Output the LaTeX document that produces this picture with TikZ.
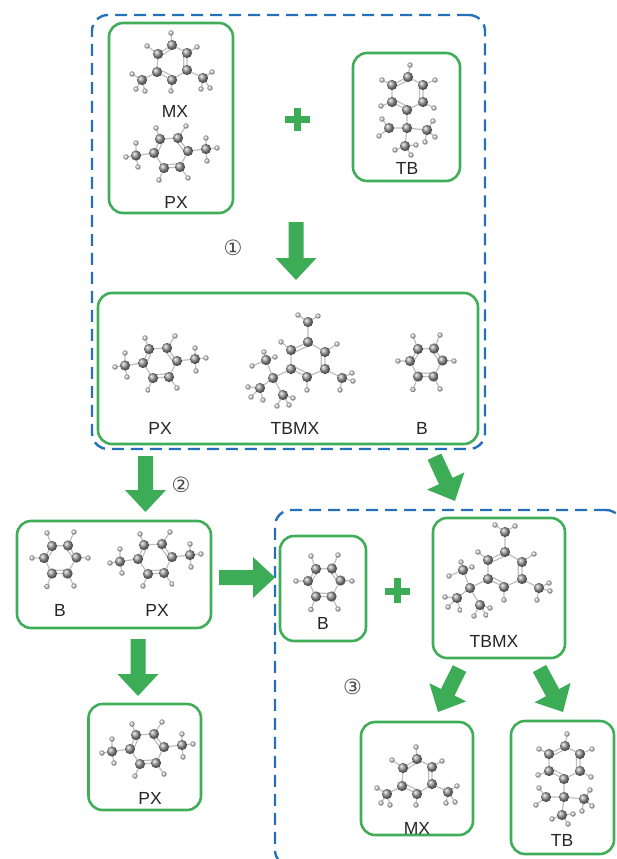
\documentclass[tikz,border=0pt]{standalone}
\usepackage{fontspec}
\setmainfont{Liberation Sans}
\newfontfamily\symfont{DejaVu Sans}
\usetikzlibrary{calc}
\definecolor{gline}{RGB}{64,174,88}
\definecolor{bline}{RGB}{36,112,186}
\definecolor{afill}{RGB}{60,172,86}
\tikzset{
 gbox/.style={draw=gline, line width=2.6pt, rounded corners=14pt, inner sep=0pt},
 dbox/.style={draw=bline, line width=2.4pt, dash pattern=on 12pt off 7pt, rounded corners=16pt, inner sep=0pt},
 lbl/.style={font=\fontsize{17.5}{20}\selectfont, text=black!85, inner sep=0pt},
 num/.style={font=\symfont\fontsize{21}{24}\selectfont, text=black!70, inner sep=0pt},
 bond/.style={draw=gray!50, line width=1.2pt},
 cball/.style={ball color=gray!80},
 hball/.style={ball color=gray!35},
 plussign/.style={draw=afill, line width=7pt},
}
\newcommand{\mC}[1]{\shade[cball] (#1) circle (5.1pt);}
\newcommand{\mH}[1]{\shade[hball] (#1) circle (2.7pt);}
\newcommand{\setring}[6]{\coordinate (c0) at (0,0); \coordinate (c1) at (#1); \coordinate (c2) at (#2); \coordinate (c3) at (#3); \coordinate (c4) at (#4); \coordinate (c5) at (#5); \coordinate (c6) at (#6);}
\newcommand{\ringbonds}{%
 \draw[bond] (c1)--(c2)--(c3)--(c4)--(c5)--(c6)--cycle;
 \draw[bond] ($(c2)!.22!(c0)$)--($(c3)!.22!(c0)$) ($(c4)!.22!(c0)$)--($(c5)!.22!(c0)$) ($(c6)!.22!(c0)$)--($(c1)!.22!(c0)$);}
\newcommand{\molB}[1]{\begin{scope}[shift={(#1)}]
 \setring{-8,-13}{8,-13.5}{16.5,-1.5}{7.5,14.5}{-8,14.5}{-16,-1}
 \ringbonds
 \draw[bond] (c1)--(-13,-26) (c2)--(14,-27) (c3)--(28,-1) (c4)--(14,27) (c5)--(-13,27.5) (c6)--(-28,-1);
 \mH{-13,-26}\mH{14,-27}\mH{28,-1}\mH{14,27}\mH{-13,27.5}\mH{-28,-1}
 \foreach \i in {1,...,6}{\mC{c\i}}
\end{scope}}
\newcommand{\molPX}[1]{\begin{scope}[shift={(#1)}]
 \setring{-11,-14}{7,-15}{17,-2}{9,14}{-7,15}{-17,0}
 \ringbonds
 \coordinate (m1) at (-35,2.5); \coordinate (m2) at (35,-4);
 \draw[bond] (c1)--(-15,-25) (c2)--(15,-27) (c4)--(17,25) (c5)--(-12,27) (c6)--(m1) (c3)--(m2)
   (m1)--(-35,-10) (m1)--(-45,4) (m1)--(-33,14) (m2)--(35,-15) (m2)--(46,-5) (m2)--(36,8);
 \mH{-15,-25}\mH{15,-27}\mH{17,25}\mH{-12,27}\mH{-35,-10}\mH{-45,4}\mH{-33,14}\mH{35,-15}\mH{46,-5}\mH{36,8}
 \foreach \i in {1,...,6}{\mC{c\i}}
 \mC{m1}\mC{m2}
\end{scope}}
\newcommand{\molMX}[1]{\begin{scope}[shift={(#1)}]
 \setring{0,-17}{15,-9}{15,8}{0,18}{-15,10}{-14,-8}
 \ringbonds
 \coordinate (m1) at (31,16); \coordinate (m2) at (-30,18);
 \draw[bond] (c1)--(-1,-29) (c2)--(25,-15) (c4)--(-1,29) (c6)--(-25,-16) (c3)--(m1) (c5)--(m2)
   (m1)--(40,10) (m1)--(38,26) (m1)--(29,27) (m2)--(-40,12) (m2)--(-36,27) (m2)--(-27,29);
 \mH{-1,-29}\mH{25,-15}\mH{-1,29}\mH{-25,-16}\mH{40,10}\mH{38,26}\mH{29,27}\mH{-40,12}\mH{-36,27}\mH{-27,29}
 \foreach \i in {1,...,6}{\mC{c\i}}
 \mC{m1}\mC{m2}
\end{scope}}
\newcommand{\molTB}[1]{\begin{scope}[shift={(#1)}]
 \setring{1,-16}{16,-8}{16,9}{0,17}{-15,9}{-15,-8}
 \ringbonds
 \coordinate (q) at (0,35); \coordinate (ma) at (-18,35); \coordinate (mb) at (20,37); \coordinate (mc) at (-2,53);
 \draw[bond] (c1)--(3,-28) (c2)--(28,-13) (c3)--(27,15) (c5)--(-26,13) (c6)--(-25,-13) (c4)--(q)
   (q)--(ma) (q)--(mb) (q)--(mc)
   (ma)--(-25,26) (ma)--(-28,43) (mb)--(26,28) (mb)--(28,44) (mb)--(18,49) (mc)--(-12,57) (mc)--(4,62) (mc)--(9,52);
 \mH{3,-28}\mH{28,-13}\mH{27,15}\mH{-26,13}\mH{-25,-13}
 \mH{-25,26}\mH{-28,43}\mH{26,28}\mH{28,44}\mH{18,49}\mH{-12,57}\mH{4,62}\mH{9,52}
 \foreach \i in {1,...,6}{\mC{c\i}}
 \mC{ma}\mC{mb}\mC{q}\mC{mc}
\end{scope}}
\newcommand{\molTBMX}[1]{\begin{scope}[shift={(#1)}]
 \setring{0,-18}{17,-8}{17,9}{-1,17}{-17,9}{-17,-10}
 \ringbonds
 \coordinate (m1) at (0,-38); \coordinate (m2) at (34,18); \coordinate (q) at (-35,18);
 \coordinate (t1) at (-42,0); \coordinate (t2) at (-48,28); \coordinate (t3) at (-25,35);
 \draw[bond] (c2)--(29,-16) (c4)--(-1,30) (c6)--(-27,-18) (c1)--(m1) (c3)--(m2) (c5)--(q)
   (q)--(t1) (q)--(t2) (q)--(t3)
   (m1)--(-10,-45) (m1)--(10,-44) (m2)--(44,13) (m2)--(32,30) (m2)--(45,21)
   (t1)--(-56,6) (t1)--(-44,-8) (t1)--(-33,-3) (t2)--(-60,27) (t2)--(-45,40) (t2)--(-57,37)
   (t3)--(-31,46) (t3)--(-15,38) (t3)--(-19,45);
 \mH{29,-16}\mH{-1,30}\mH{-27,-18}\mH{-10,-45}\mH{10,-44}\mH{44,13}\mH{32,30}\mH{45,21}
 \mH{-56,6}\mH{-44,-8}\mH{-33,-3}\mH{-60,27}\mH{-45,40}\mH{-57,37}\mH{-31,46}\mH{-15,38}\mH{-19,45}
 \foreach \i in {1,...,6}{\mC{c\i}}
 \mC{m1}\mC{m2}\mC{t1}\mC{t2}\mC{q}\mC{t3}
\end{scope}}
\newcommand{\fatarrow}[2]{%
 \coordinate (fab) at ($(#2)!22pt!(#1)$);
 \fill[afill] ($(#1)!7.5pt!90:(#2)$) -- ($(fab)!7.5pt!90:(#2)$) -- ($(fab)!20.5pt!90:(#2)$) -- (#2)
   -- ($(fab)!20.5pt!-90:(#2)$) -- ($(fab)!7.5pt!-90:(#2)$) -- ($(#1)!7.5pt!-90:(#2)$) -- cycle;}
\begin{document}
\begin{tikzpicture}[x=1pt,y=-1pt]
\useasboundingbox (0,0) rectangle (616,859);
\clip (0,0) rectangle (616,859);
\fill[white] (0,0) rectangle (616,859);
% dashed group boxes
\node[dbox, minimum width=393pt, minimum height=434pt] (grp1) at (288.5,232) {};
\node[dbox, minimum width=347pt, minimum height=356pt] (grp2) at (448.5,688) {};
% green boxes
\node[gbox, minimum width=124pt, minimum height=190pt] (bxMXPX) at (171,118) {};
\node[gbox, minimum width=107pt, minimum height=128pt] (bxTB) at (406.5,117) {};
\node[gbox, minimum width=380pt, minimum height=151pt] (bxMix) at (288,368.5) {};
\node[gbox, minimum width=194pt, minimum height=107pt] (bxBPX) at (114,574.5) {};
\node[gbox, minimum width=112.5pt, minimum height=106pt] (bxPX) at (144.75,757) {};
\node[gbox, minimum width=86pt, minimum height=105pt] (bxB) at (323,588.5) {};
\node[gbox, minimum width=132pt, minimum height=140pt] (bxTBMX) at (499,588) {};
\node[gbox, minimum width=112pt, minimum height=113pt] (bxMX) at (417,778.5) {};
\node[gbox, minimum width=103pt, minimum height=133pt] (bxTB2) at (562.5,787.5) {};
% molecules
\molMX{172,62}
\molPX{171,153}
\molTB{407,93}
\molPX{160,363}
\molTBMX{308,360}
\molB{426,362}
\molB{60,559}
\molPX{155,559}
\molPX{147,749}
\molB{324,582}
\molTBMX{505,570}
\molMX{417,776}
\molTB{564,762}
% labels
\node[lbl] (tMX1) at (175,111) {MX};
\node[lbl] (tPX1) at (176,202) {PX};
\node[lbl] (tTB1) at (407,168) {TB};
\node[lbl] (tPX2) at (160,428) {PX};
\node[lbl] (tTBMX1) at (295,428) {TBMX};
\node[lbl] (tB1) at (422,428) {B};
\node[lbl] (tB2) at (60,610) {B};
\node[lbl] (tPX3) at (157,610) {PX};
\node[lbl] (tPX4) at (150,798) {PX};
\node[lbl] (tB3) at (323,623) {B};
\node[lbl] (tTBMX2) at (494,641) {TBMX};
\node[lbl] (tMX2) at (417,828) {MX};
\node[lbl] (tTB2) at (562,840) {TB};
% step numbers
\node[num] (n1) at (233,248) {①};
\node[num] (n2) at (181,485) {②};
\node[num] (n3) at (352.5,687) {③};
% plus signs
\draw[plussign] (285,119.5)--(310,119.5) (297.5,108)--(297.5,131);
\draw[plussign] (385,591)--(410,591) (397.5,578)--(397.5,603);
% arrows
\coordinate (a1s) at (296,222); \coordinate (a1e) at (296,280);
\coordinate (a2s) at (145.5,456); \coordinate (a2e) at (145.5,512);
\coordinate (a3s) at (434.5,456.7); \coordinate (a3e) at (455,501);
\coordinate (a4s) at (219,577.5); \coordinate (a4e) at (275,577.5);
\coordinate (a5s) at (138,639); \coordinate (a5e) at (138,696);
\coordinate (a6s) at (459.5,668.5); \coordinate (a6e) at (438,712);
\coordinate (a7s) at (539.5,668.5); \coordinate (a7e) at (563,712);
\fatarrow{a1s}{a1e}
\fatarrow{a2s}{a2e}
\fatarrow{a3s}{a3e}
\fatarrow{a4s}{a4e}
\fatarrow{a5s}{a5e}
\fatarrow{a6s}{a6e}
\fatarrow{a7s}{a7e}
\end{tikzpicture}
\end{document}
